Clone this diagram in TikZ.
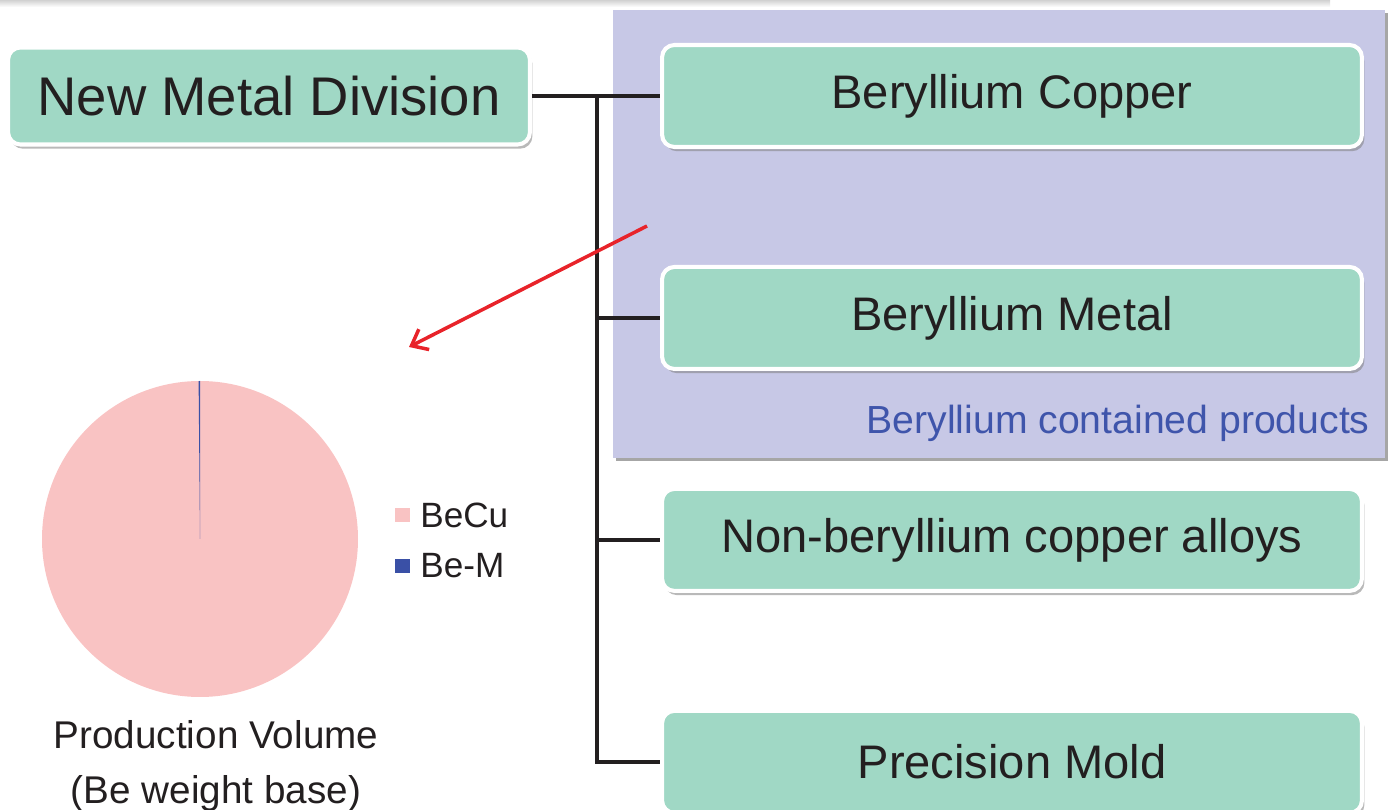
\documentclass[tikz,border=0pt]{standalone}
\usepackage{fontspec}
\setmainfont{Liberation Sans}
\usepackage{tikz}
\usetikzlibrary{positioning,shadows,arrows.meta}

\definecolor{boxgreen}{HTML}{A0D8C5}
\definecolor{panelblue}{HTML}{C7C8E6}
\definecolor{labelblue}{HTML}{3F55AB}
\definecolor{piepink}{HTML}{F9C3C3}
\definecolor{pieblue}{HTML}{3A50A6}
\definecolor{linedark}{HTML}{231F20}
\definecolor{arrowred}{HTML}{E8232A}

\tikzset{
  division/.style={draw=white, line width=2.3pt, fill=boxgreen, rounded corners=7pt,
    drop shadow={shadow xshift=1.4pt, shadow yshift=-2.4pt, opacity=.55},
    text=linedark, inner sep=0pt},
  product/.style={division, minimum width=14cm, minimum height=2.04cm,
    font=\fontsize{26.8}{30}\selectfont},
  branch/.style={draw=linedark, line width=2.2pt},
  legendkey/.style={minimum size=8.5pt, inner sep=0pt},
  legendtext/.style={anchor=west, inner sep=0pt, text=linedark, font=\fontsize{20}{24}\selectfont}
}

\begin{document}
\begin{tikzpicture}[x=0.02cm,y=-0.02cm,node distance=4.44cm,on grid]
  \useasboundingbox (0,0) rectangle (1394,810);
  \clip (0,0) rectangle (1394,810);
  \shade[top color=black!18, bottom color=white] (0,0) rectangle (1330,7);

  % panel for the beryllium products
  \fill[panelblue, drop shadow={shadow xshift=1.8pt, shadow yshift=-1.8pt, opacity=.7}]
    (613,10) rectangle (1385,458);
  \node[anchor=east, inner sep=0pt, text=labelblue, font=\fontsize{22.3}{26}\selectfont]
    (panellabel) at (1370,423) {Beryllium contained products};

  % division and its products
  \node[division, minimum width=10.44cm, minimum height=1.94cm, font=\fontsize{31}{36}\selectfont]
    (nmd) at (269,96) {New Metal Division};
  \node[product] (becu) at (1012,96) {Beryllium Copper};
  \node[product] (bemetal) [below=of becu] {Beryllium Metal};
  \node[product] (nonbe) [below=of bemetal] {Non-beryllium copper alloys};
  \node[product] (mold) [below=of nonbe] {Precision Mold};

  \coordinate (trunk) at (597,96);
  \draw[branch] (nmd.east) -- (becu.west);
  \draw[branch] (trunk) |- (mold.west);
  \draw[branch] (trunk |- bemetal) -- (bemetal.west);
  \draw[branch] (trunk |- nonbe) -- (nonbe.west);

  % pie of production volume
  \coordinate (pie) at (200,539);
  \fill[piepink] (pie) circle[radius=158];
  \fill[pieblue] (pie) -- ++(-90.5:158) arc[start angle=-90.5, end angle=-90, radius=158] -- cycle;

  \node[legendkey, fill=piepink] (keybecu) at (402.5,515) {};
  \node[legendtext] (txtbecu) at (420,515) {BeCu};
  \node[legendkey, fill=pieblue] (keybem) at (402.5,566) {};
  \node[legendtext] (txtbem) at (420,566) {Be-M};

  \node[align=center, inner sep=0pt, text=linedark, font=\fontsize{22}{31.7}\selectfont]
    (caption) at (216,766) {Production Volume\\(Be weight base)};

  % pointer from the panel to the chart
  \coordinate (from) at (647,226);
  \coordinate (to) at (409,347);
  \draw[arrowred, line width=2pt, -{Straight Barb[length=8pt,width=13pt]}] (from) -- (to);
\end{tikzpicture}
\end{document}
